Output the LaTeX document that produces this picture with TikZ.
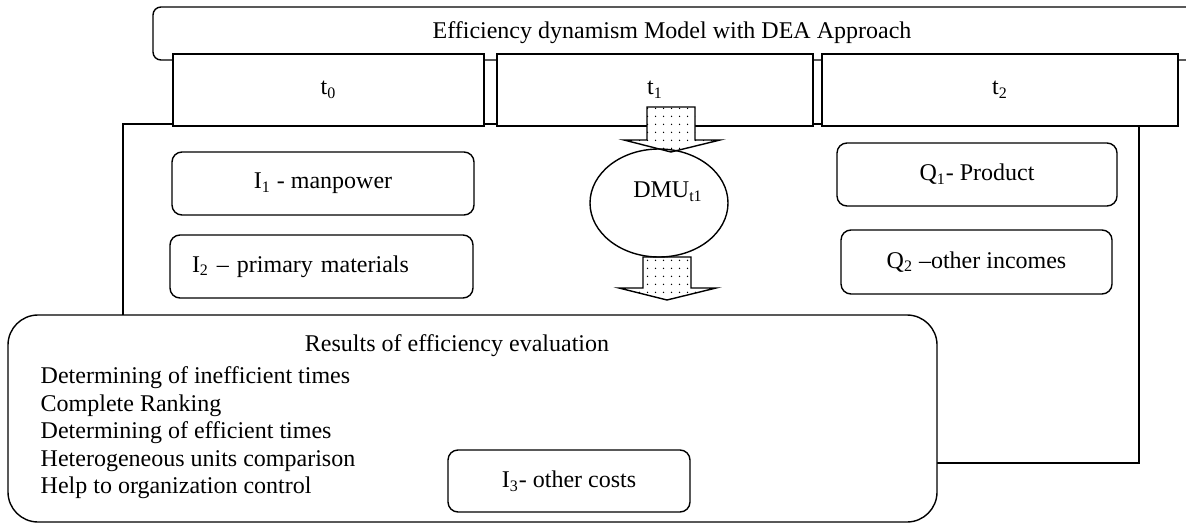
\documentclass[tikz,border=0pt]{standalone}
\usepackage{fontspec}
\setmainfont{Liberation Serif}
\usetikzlibrary{patterns.meta,shapes.geometric}

\tikzset{
  period/.style={draw, fill=white, minimum height=36pt, inner sep=0pt},
  factor/.style={draw, fill=white, rounded corners=5pt, minimum height=31.5pt, inner sep=0pt},
  blockarrow/.style={draw, preaction={fill=white}, pattern={Dots[distance=4pt, radius=0.4pt]}},
}

\begin{document}
\begin{tikzpicture}[x=0.5pt, y=-0.5pt, line width=0.7pt, font=\fontsize{12}{13.75}\selectfont]
\useasboundingbox (0,0) rectangle (1186,524);
\clip (0,0) rectangle (1186,524);

% title bar
\draw[rounded corners=4pt] (1200,7) -- (153,7) -- (153,60) -- (1200,60);
\node (title) at (672,33) {Efficiency dynamism Model with DEA Approach};

% frame
\draw (123,124) rectangle (1139,463);

% periods
\node[period, minimum width=155.5pt] (t0) at (328.5,90) {t\textsubscript{0}};
\node[period, minimum width=158pt] (t1) at (655,90) {t\textsubscript{1}};
\node[period, minimum width=178pt] (t2) at (1000,90) {t\textsubscript{2}};

% inputs and outputs
\node[factor, minimum width=151pt] (I1) at (323,183.5) {I\textsubscript{1} - manpower};
\node[factor, minimum width=151.5pt, inner xsep=11pt, text width=129.5pt, align=left] (I2) at (321.5,266.5) {I\textsubscript{2} -- primary materials};
\node[factor, minimum width=140pt] (Q1) at (977,174.5) {Q\textsubscript{1}- Product};
\node[factor, minimum width=135.5pt, minimum height=32pt] (Q2) at (976.5,262) {Q\textsubscript{2} --other incomes};

% results
\node[draw, fill=white, rounded corners=15pt, minimum width=464.5pt, minimum height=103.5pt] (results) at (472.5,418.5) {};
\node (restitle) at (457,346) {Results of efficiency evaluation};
\node[anchor=north west, align=left, inner sep=0pt] (reslist) at (40,366) {Determining of inefficient times\\
Complete Ranking\\
Determining of efficient times\\
Heterogeneous units comparison\\
Help to organization control};
\node[factor, minimum width=121pt, minimum height=31pt] (I3) at (569,481) {I\textsubscript{3}- other costs};

% block arrows
\draw[blockarrow] (647,107) -- (695,107) -- (695,140) -- (720,140) -- (671,152) -- (624,140) -- (647,140) -- cycle;
\draw[blockarrow] (643,257) -- (691,257) -- (691,288) -- (716,288) -- (667,300) -- (619,288) -- (643,288) -- cycle;

\node[draw, ellipse, minimum width=69pt, minimum height=54pt, inner sep=0pt] (dmu) at (659,203) {};
\node (dmulabel) at (668,192) {DMU\textsubscript{t1}};
\end{tikzpicture}
\end{document}
